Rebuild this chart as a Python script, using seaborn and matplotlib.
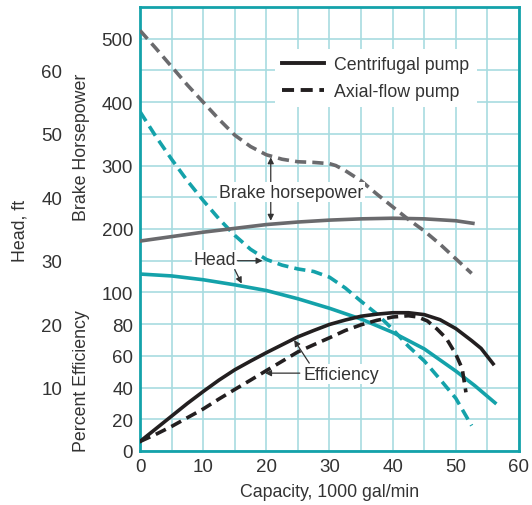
import matplotlib
matplotlib.use("Agg")
import matplotlib.pyplot as plt
from matplotlib.lines import Line2D
from matplotlib.ticker import MultipleLocator
import seaborn as sns

# capacity in 1000 gal/min
BHP_CF_X = [0, 5, 10, 15, 20, 25, 30, 35, 40, 45, 50, 52.7]
BHP_CF = [181, 188, 195, 201, 207, 211, 214, 216, 217, 216, 213, 209]
BHP_AX_X = [0, 2.5, 5, 7.5, 10, 12.5, 15, 17.5, 20, 22.5, 25, 27.5, 30, 31, 32.5,
            35, 37.5, 40, 42.5, 45, 47.5, 50, 52.5]
BHP_AX = [513, 485, 456, 427, 400, 373, 348, 330, 317, 310, 306, 305, 303, 300, 292,
          276, 255, 235, 215, 197, 176, 153, 130]

HEAD_CF_X = [0, 5, 10, 15, 20, 25, 30, 35, 40, 45, 50, 53, 56.2]
HEAD_CF = [27.9, 27.6, 27.0, 26.2, 25.3, 24.0, 22.5, 20.8, 18.7, 16.1, 12.6, 10.3, 7.6]
HEAD_AX_X = [0, 2.5, 5, 7.5, 10, 12.5, 15, 17.5, 20, 22.5, 25, 27.5, 30, 32.5, 35,
             37.5, 40, 42.5, 45, 47.5, 50, 52.5]
HEAD_AX = [53.5, 49.6, 46.0, 42.6, 39.5, 36.6, 34.0, 31.8, 30.2, 29.3, 28.7, 28.3,
           27.4, 25.7, 23.6, 21.6, 19.2, 16.5, 14.2, 11.3, 8.3, 4.0]

EFF_CF_X = [0, 2.5, 5, 7.5, 10, 12.5, 15, 17.5, 20, 22.5, 25, 27.5, 30, 32.5, 35,
            37.5, 40, 42.5, 45, 47.5, 50, 52.5, 54, 55.9]
EFF_CF = [6, 14, 22, 30, 37.5, 44.7, 51.2, 56.7, 62, 67, 72, 76, 79.8, 82.6, 85,
          86.3, 87.2, 87.2, 86, 82.8, 77.2, 69.6, 64.7, 55]
EFF_AX_X = [0, 2.5, 5, 7.5, 10, 12.5, 15, 17.5, 20, 22.5, 25, 27.5, 30, 32.5, 35,
            37.5, 40, 42.5, 44, 45.5, 47, 48.5, 50, 51, 51.6]
EFF_AX = [6, 10.5, 15.5, 21, 26.5, 32.8, 38.8, 44.7, 50.7, 56.6, 62.5, 67, 71.4, 76,
          79.6, 82.4, 84.5, 85.3, 84.5, 82, 77, 71, 61, 52, 37]

X_TICKS = [0, 10, 20, 30, 40, 50, 60]
HEAD_TICKS = [10, 20, 30, 40, 50, 60]
BHP_TICKS = [200, 300, 400, 500]
EFF_TICKS = [0, 20, 40, 60, 80, 100]

TEAL = "#14a2aa"
GRID = "#a8dbe0"
GRAY = "#6a6a6d"
BLACK = "#231f20"
TXT = "#333333"
DASH = (0, (3.1, 1.7))

plt.rcParams["font.family"] = ["Liberation Sans", "DejaVu Sans"]
plt.rcParams["text.color"] = TXT
plt.rcParams["xtick.color"] = TXT
plt.rcParams["ytick.color"] = TXT
plt.rcParams["axes.labelcolor"] = TXT

W, H = 532, 506
fig = plt.figure(figsize=(W / 100, H / 100), dpi=100)
ax = fig.add_axes([140 / W, (H - 452) / H, 379 / W, 444 / H])

# head axis (outer labels)
ax.set_xlim(0, 60)
ax.set_ylim(0, 70)
ax.set_xticks(X_TICKS)
ax.xaxis.set_minor_locator(MultipleLocator(5))
ax.set_yticks(HEAD_TICKS)
ax.yaxis.set_minor_locator(MultipleLocator(5))
ax.grid(which="both", color=GRID, linewidth=1.2)
ax.set_axisbelow(True)
ax.tick_params(which="both", length=0, labelsize=13.5)
ax.tick_params(axis="y", pad=56)
ax.tick_params(axis="x", pad=5)
for sp in ax.spines.values():
    sp.set_color(TEAL)
    sp.set_linewidth(2)

ax_bhp = ax.twinx()
ax_bhp.set_ylim(-150, 550)
ax_bhp.set_yticks(BHP_TICKS)
ax_eff = ax.twinx()
ax_eff.set_ylim(0, 280)
ax_eff.set_yticks(EFF_TICKS)
for a in (ax_bhp, ax_eff):
    a.yaxis.tick_left()
    a.tick_params(length=0, pad=5, labelsize=13.5)
    for sp in a.spines.values():
        sp.set_visible(False)

lw = 2.6
sns.lineplot(x=HEAD_CF_X, y=HEAD_CF, ax=ax, color=TEAL, linewidth=lw)
sns.lineplot(x=HEAD_AX_X, y=HEAD_AX, ax=ax, color=TEAL, linewidth=lw, linestyle=DASH)
sns.lineplot(x=BHP_CF_X, y=BHP_CF, ax=ax_bhp, color=GRAY, linewidth=lw)
sns.lineplot(x=BHP_AX_X, y=BHP_AX, ax=ax_bhp, color=GRAY, linewidth=lw, linestyle=DASH)
sns.lineplot(x=EFF_CF_X, y=EFF_CF, ax=ax_eff, color=BLACK, linewidth=lw)
sns.lineplot(x=EFF_AX_X, y=EFF_AX, ax=ax_eff, color=BLACK, linewidth=lw, linestyle=DASH)

ax.set_xlabel("Capacity, 1000 gal/min", fontsize=12.8, labelpad=6)
ax.set_ylabel("")
ax_bhp.set_ylabel("")
ax_eff.set_ylabel("")

fig.text(20 / W, 1 - 231 / H, "Head, ft", rotation=90, ha="center", va="center", fontsize=12.8)
fig.text(82 / W, 1 - 147 / H, "Brake Horsepower", rotation=90, ha="center", va="center", fontsize=12.8)
fig.text(82 / W, 1 - 381 / H, "Percent Efficiency", rotation=90, ha="center", va="center", fontsize=12.8)

arrow = dict(arrowstyle="-|>", color=TXT, lw=0.9, shrinkA=0, shrinkB=0, mutation_scale=9)
box = dict(facecolor="white", edgecolor="none", pad=1)

# brake horsepower callout
ax_bhp.annotate("", xy=(20.7, 313), xytext=(20.7, 260), arrowprops=arrow)
ax_bhp.annotate("", xy=(20.7, 213), xytext=(20.7, 260), arrowprops=arrow)
ax_bhp.text(23.9, 258, "Brake horsepower", ha="center", va="center", fontsize=12.8, bbox=box)

# head callout
ax.text(11.9, 30.2, "Head", ha="center", va="center", fontsize=12.8, bbox=box)
ax.annotate("", xy=(19.4, 30.0), xytext=(15.4, 30.0), arrowprops=arrow)
ax.annotate("", xy=(16.1, 26.4), xytext=(15.0, 28.6), arrowprops=arrow)

# efficiency callout
ax_eff.text(31.9, 48.4, "Efficiency", ha="center", va="center", fontsize=12.8, bbox=box)
ax_eff.annotate("", xy=(19.8, 49.1), xytext=(25.3, 49.1), arrowprops=arrow)
ax_eff.annotate("", xy=(24.4, 70.0), xytext=(26.8, 55.4), arrowprops=arrow)

handles = [Line2D([], [], color=BLACK, linewidth=2.8),
           Line2D([], [], color=BLACK, linewidth=2.8, linestyle=DASH)]
leg = ax_eff.legend(handles, ["Centrifugal pump", "Axial-flow pump"],
                    loc="upper left", bbox_to_anchor=(0.356, 0.905),
                    frameon=True, facecolor="white", edgecolor="none", framealpha=1,
                    fancybox=False, borderaxespad=0, handlelength=2.35,
                    handletextpad=0.6, labelspacing=0.55, fontsize=12.8)

fig.savefig("out.png", dpi=100)
